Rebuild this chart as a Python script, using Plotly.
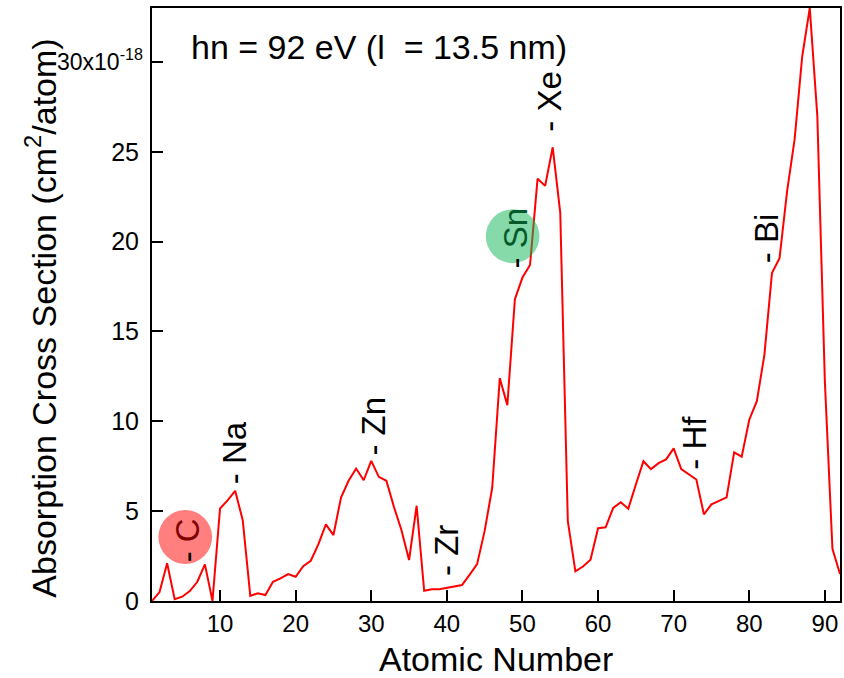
import plotly.graph_objects as go

atomic_number = list(range(1, 93))
cross_section = [
    0.0, 0.5, 2.1, 0.1, 0.24, 0.55, 1.07, 2.04, 0.0, 5.15,
    5.6, 6.13, 4.5, 0.28, 0.43, 0.33, 1.07, 1.26, 1.5, 1.35,
    1.94, 2.24, 3.15, 4.26, 3.67, 5.76, 6.69, 7.37, 6.72, 7.8,
    6.91, 6.69, 5.24, 3.94, 2.28, 5.3, 0.57, 0.65, 0.65, 0.72,
    0.8, 0.89, 1.45, 2.05, 3.9, 6.3, 12.4, 10.9, 16.8, 18.0,
    18.7, 23.5, 23.1, 25.25, 21.6, 4.44, 1.65, 1.92, 2.3, 4.05,
    4.1, 5.18, 5.5, 5.14, 6.48, 7.78, 7.34, 7.67, 7.88, 8.49,
    7.34, 7.06, 6.76, 4.82, 5.38, 5.57, 5.77, 8.27, 8.03, 10.09,
    11.12, 13.7, 18.25, 19.07, 22.8, 25.7, 30.3, 33.0, 27.0, 12.2,
    2.9, 1.5,
]

x_ticks = [10, 20, 30, 40, 50, 60, 70, 80, 90]
y_ticks = [0, 5, 10, 15, 20, 25, 30]
y_ticktext = ["0", "5", "10", "15", "20", "25", ""]
y_top_label = "30x10<sup>-18</sup>"

# element labels: (text, x, y, letter colour)
element_labels = [
    ("C", 5.66, 3.39, "#800000"),
    ("Na", 11.84, 8.28, "black"),
    ("Zn", 30.26, 9.72, "black"),
    ("Zr", 39.87, 2.83, "black"),
    ("Sn", 48.95, 20.2, "#065a2a"),
    ("Xe", 53.55, 27.8, "black"),
    ("Hf", 72.76, 8.78, "black"),
    ("Bi", 82.24, 20.2, "black"),
]

FONT = "Liberation Sans, Arial, sans-serif"

fig = go.Figure()
fig.add_trace(go.Scatter(
    x=atomic_number, y=cross_section, mode="lines",
    line=dict(color="#ff0000", width=2), showlegend=False,
))

annotations = []
for name, xa, ya, col in element_labels:
    annotations.append(dict(
        x=xa, y=ya, xref="x", yref="y", showarrow=False, textangle=-90,
        text=f"- <span style='color:{col}'>{name}</span>",
        font=dict(family=FONT, size=33, color="black"),
        xanchor="center", yanchor="middle",
    ))

annotations.append(dict(
    x=0.054, y=0.934, xref="paper", yref="paper", showarrow=False,
    text="hn = 92 eV (l  = 13.5 nm)", xanchor="left", yanchor="middle",
    font=dict(family=FONT, size=34, color="black"),
))
annotations.append(dict(
    x=-0.010, y=y_ticks[-1], xref="paper", yref="y", showarrow=False,
    text=y_top_label, xanchor="right", yanchor="middle", yshift=2,
    font=dict(family=FONT, size=23, color="black"),
))
annotations.append(dict(
    x=-0.162, y=0.477, xref="paper", yref="paper", showarrow=False,
    text="Absorption Cross Section (cm<sup>2</sup>/atom)", textangle=-90,
    xanchor="center", yanchor="middle",
    font=dict(family=FONT, size=34, color="black"),
))
annotations.append(dict(
    x=0.5, y=-0.098, xref="paper", yref="paper", showarrow=False,
    text="Atomic Number", xanchor="center", yanchor="middle",
    font=dict(family=FONT, size=34, color="black"),
))

shapes = [
    dict(type="circle", xref="x", yref="y", layer="above",
         x0=5.4 - 3.55, x1=5.4 + 3.55, y0=3.56 - 1.5, y1=3.56 + 1.5,
         fillcolor="rgba(255,0,0,0.5)", line=dict(width=0)),
    dict(type="circle", xref="x", yref="y", layer="above",
         x0=48.7 - 3.55, x1=48.7 + 3.55, y0=20.3 - 1.5, y1=20.3 + 1.5,
         fillcolor="rgba(13,181,85,0.5)", line=dict(width=0)),
]

fig.update_layout(
    width=844, height=678,
    margin=dict(l=152, r=2, t=8, b=77),
    paper_bgcolor="white", plot_bgcolor="white",
    annotations=annotations, shapes=shapes,
    font=dict(family=FONT, color="black"),
)
fig.update_xaxes(
    range=[1, 92], tickvals=x_ticks, ticks="inside", ticklen=11, tickwidth=2,
    tickcolor="black", showline=True, linecolor="black", linewidth=2,
    mirror=True, showgrid=False, zeroline=False,
    tickfont=dict(family=FONT, size=24, color="black"),
)
fig.update_yaxes(
    range=[0, 33], tickvals=y_ticks, ticktext=y_ticktext, ticks="inside",
    ticklen=11, tickwidth=2, tickcolor="black", showline=True,
    linecolor="black", linewidth=2, mirror=True, showgrid=False,
    zeroline=False, ticklabelstandoff=6,
    tickfont=dict(family=FONT, size=25, color="black"),
)

fig.write_html("out.html")
